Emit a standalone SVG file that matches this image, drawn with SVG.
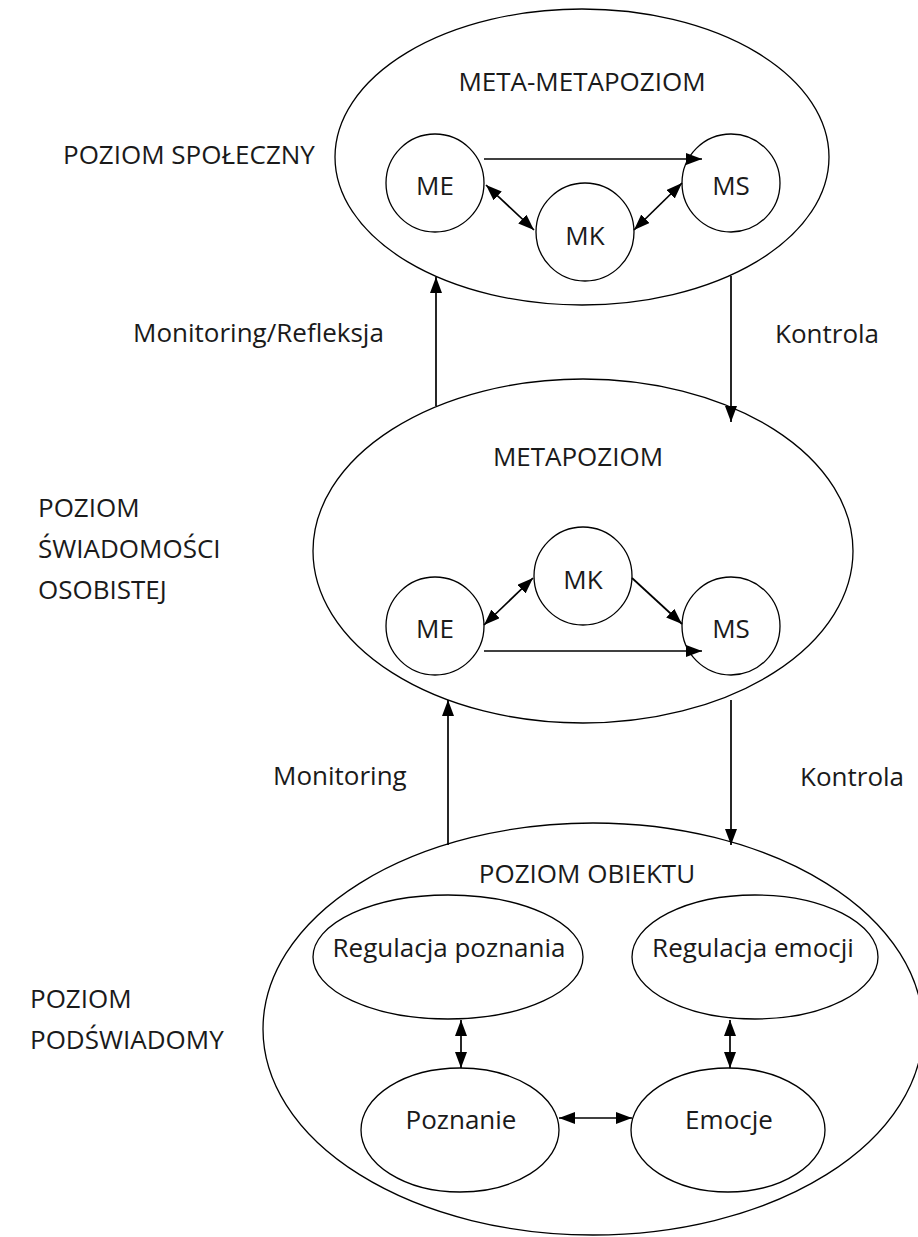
<svg xmlns="http://www.w3.org/2000/svg" width="918" height="1237" viewBox="0 0 918 1237">
<style>
  .shape { fill: #ffffff; stroke: #000000; stroke-width: 1.3; }
  .conn { fill: none; stroke: #000000; stroke-width: 1.7; }
  text { font-family: "Open Sans", "Liberation Sans", sans-serif; font-size: 26px; fill: #1a1a1a; }
  .c { text-anchor: middle; }
</style>
<defs>
  <marker id="ah" viewBox="0 0 16 12" refX="16" refY="6" markerWidth="16" markerHeight="12" markerUnits="userSpaceOnUse" orient="auto-start-reverse">
    <path d="M0,0 L16,6 L0,12 z" fill="#000000"/>
  </marker>
</defs>
<rect x="0" y="0" width="918" height="1237" fill="#ffffff"/>

<!-- level labels -->
<g id="label-spoleczny"><text x="63" y="164">POZIOM SPOŁECZNY</text></g>
<g id="label-swiadomosci">
  <text x="38" y="517">POZIOM</text>
  <text x="38" y="558">ŚWIADOMOŚCI</text>
  <text x="38" y="599">OSOBISTEJ</text>
</g>
<g id="label-podswiadomy">
  <text x="30" y="1008">POZIOM</text>
  <text x="30" y="1049">PODŚWIADOMY</text>
</g>

<!-- top level -->
<g id="meta-metapoziom">
  <ellipse class="shape" cx="582" cy="157" rx="247" ry="148"/>
  <text class="c" x="582" y="91">META-METAPOZIOM</text>
</g>
<g id="top-me"><circle class="shape" cx="435" cy="183" r="49"/><text class="c" x="435" y="195">ME</text></g>
<g id="top-mk"><circle class="shape" cx="585" cy="232" r="49"/><text class="c" x="585" y="245">MK</text></g>
<g id="top-ms"><circle class="shape" cx="731" cy="183" r="49"/><text class="c" x="731" y="195">MS</text></g>

<!-- middle level -->
<g id="metapoziom">
  <ellipse class="shape" cx="583" cy="551" rx="270" ry="172"/>
  <text class="c" x="578" y="466">METAPOZIOM</text>
</g>
<g id="mid-me"><circle class="shape" cx="435" cy="626" r="49"/><text class="c" x="435" y="638">ME</text></g>
<g id="mid-mk"><circle class="shape" cx="583" cy="576" r="49"/><text class="c" x="583" y="589">MK</text></g>
<g id="mid-ms"><circle class="shape" cx="731" cy="626" r="49"/><text class="c" x="731" y="638">MS</text></g>

<!-- bottom level -->
<g id="poziom-obiektu">
  <ellipse class="shape" cx="593" cy="1029" rx="330" ry="206"/>
  <text class="c" x="587" y="883">POZIOM OBIEKTU</text>
</g>
<g id="regulacja-poznania"><ellipse class="shape" cx="448" cy="957" rx="135" ry="62"/><text class="c" x="449" y="957">Regulacja poznania</text></g>
<g id="regulacja-emocji"><ellipse class="shape" cx="755" cy="957" rx="123" ry="62"/><text class="c" x="753" y="957">Regulacja emocji</text></g>
<g id="poznanie"><ellipse class="shape" cx="460" cy="1130" rx="99" ry="62"/><text class="c" x="461" y="1129">Poznanie</text></g>
<g id="emocje"><ellipse class="shape" cx="728" cy="1130" rx="97" ry="62"/><text class="c" x="729" y="1129">Emocje</text></g>

<!-- connectors -->
<g id="connectors">
  <line class="conn" x1="484" y1="159" x2="702" y2="159" marker-end="url(#ah)"/>
  <line class="conn" x1="486" y1="185" x2="534" y2="230" marker-start="url(#ah)" marker-end="url(#ah)"/>
  <line class="conn" x1="634" y1="230" x2="682" y2="183" marker-start="url(#ah)" marker-end="url(#ah)"/>

  <line class="conn" x1="436" y1="406" x2="436" y2="277" marker-end="url(#ah)"/>
  <line class="conn" x1="731" y1="276" x2="731" y2="422" marker-end="url(#ah)"/>

  <line class="conn" x1="484" y1="625" x2="533" y2="578" marker-start="url(#ah)" marker-end="url(#ah)"/>
  <line class="conn" x1="632" y1="578" x2="682" y2="624" marker-end="url(#ah)"/>
  <line class="conn" x1="484" y1="651" x2="702" y2="651" marker-end="url(#ah)"/>

  <line class="conn" x1="448" y1="845" x2="448" y2="700" marker-end="url(#ah)"/>
  <line class="conn" x1="731" y1="700" x2="731" y2="845" marker-end="url(#ah)"/>

  <line class="conn" x1="461" y1="1020" x2="461" y2="1068" marker-start="url(#ah)" marker-end="url(#ah)"/>
  <line class="conn" x1="730" y1="1020" x2="730" y2="1068" marker-start="url(#ah)" marker-end="url(#ah)"/>
  <line class="conn" x1="559" y1="1118" x2="632" y2="1118" marker-start="url(#ah)" marker-end="url(#ah)"/>
</g>

<g id="edge-labels">
  <text x="133" y="342">Monitoring/Refleksja</text>
  <text x="775" y="343">Kontrola</text>
  <text x="273" y="785">Monitoring</text>
  <text x="800" y="786">Kontrola</text>
</g>
</svg>
